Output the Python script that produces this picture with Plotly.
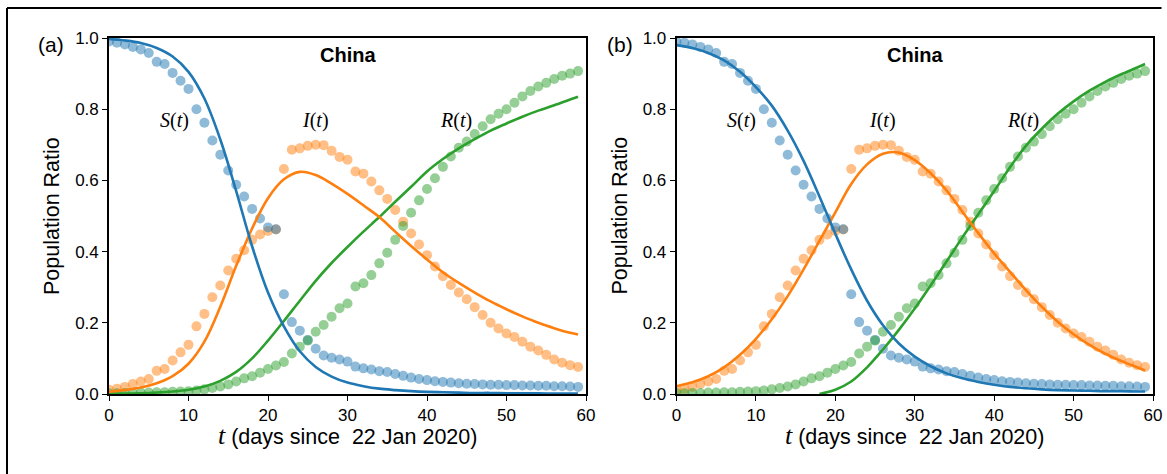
import plotly.graph_objects as go

# ---------------- observed data (days since 22 Jan 2020) ----------------
days = list(range(60))

S_obs = [0.990, 0.987, 0.982, 0.975, 0.968, 0.958, 0.933, 0.927, 0.902, 0.880,
         0.857, 0.800, 0.762, 0.712, 0.672, 0.628, 0.588, 0.555, 0.520, 0.493,
         0.468, 0.463, 0.280, 0.202, 0.178, 0.152, 0.127, 0.108, 0.102, 0.097,
         0.091, 0.077, 0.072, 0.069, 0.064, 0.062, 0.056, 0.051, 0.046, 0.042,
         0.039, 0.036, 0.034, 0.032, 0.030, 0.029, 0.028, 0.027, 0.026, 0.026,
         0.025, 0.025, 0.024, 0.024, 0.023, 0.023, 0.022, 0.022, 0.021, 0.020]

I_obs = [0.012, 0.015, 0.020, 0.028, 0.035, 0.042, 0.065, 0.070, 0.094, 0.117,
         0.138, 0.190, 0.225, 0.272, 0.305, 0.347, 0.380, 0.404, 0.433, 0.448,
         0.458, 0.462, 0.632, 0.686, 0.690, 0.697, 0.700, 0.699, 0.683, 0.666,
         0.658, 0.625, 0.619, 0.597, 0.572, 0.548, 0.517, 0.484, 0.451, 0.420,
         0.390, 0.358, 0.331, 0.306, 0.285, 0.266, 0.244, 0.222, 0.200, 0.184,
         0.170, 0.160, 0.147, 0.133, 0.122, 0.110, 0.097, 0.088, 0.081, 0.076]

R_obs = [0.002, 0.002, 0.003, 0.003, 0.004, 0.004, 0.005, 0.005, 0.006, 0.007,
         0.008, 0.010, 0.013, 0.017, 0.021, 0.027, 0.035, 0.044, 0.050, 0.060,
         0.070, 0.080, 0.090, 0.114, 0.133, 0.150, 0.175, 0.194, 0.217, 0.241,
         0.254, 0.302, 0.311, 0.334, 0.367, 0.397, 0.433, 0.472, 0.509, 0.544,
         0.576, 0.606, 0.638, 0.667, 0.692, 0.709, 0.730, 0.752, 0.772, 0.787,
         0.800, 0.818, 0.836, 0.851, 0.864, 0.874, 0.885, 0.894, 0.900, 0.907]

# ---------------- model curves ----------------
t_model = [0, 2, 4, 6, 8, 10, 12, 14, 16, 18, 20, 22, 24, 26, 28, 30,
           32, 34, 36, 38, 40, 42, 44, 46, 48, 50, 52, 54, 56, 58, 59]

# panel (a)
S_fit_a = [0.997, 0.993, 0.986, 0.972, 0.948, 0.905, 0.830, 0.715, 0.570, 0.415,
           0.285, 0.190, 0.120, 0.076, 0.049, 0.032, 0.022, 0.015, 0.011, 0.008,
           0.006, 0.005, 0.004, 0.003, 0.003, 0.002, 0.002, 0.002, 0.001, 0.001, 0.001]
I_fit_a = [0.006, 0.011, 0.018, 0.030, 0.050, 0.085, 0.147, 0.245, 0.360, 0.465,
           0.550, 0.603, 0.624, 0.615, 0.591, 0.562, 0.530, 0.497, 0.456, 0.416,
           0.378, 0.342, 0.312, 0.285, 0.260, 0.238, 0.218, 0.200, 0.185, 0.172, 0.167]
R_fit_a = [0.000, 0.001, 0.002, 0.004, 0.007, 0.012, 0.021, 0.037, 0.062, 0.100,
           0.150, 0.205, 0.262, 0.318, 0.368, 0.413, 0.456, 0.497, 0.540, 0.582,
           0.625, 0.660, 0.690, 0.716, 0.740, 0.760, 0.779, 0.796, 0.811, 0.827, 0.835]

# panel (b)
S_fit_b = [0.980, 0.972, 0.958, 0.937, 0.905, 0.862, 0.810, 0.740, 0.655, 0.555,
           0.450, 0.350, 0.262, 0.193, 0.142, 0.105, 0.078, 0.058, 0.044, 0.034,
           0.026, 0.020, 0.016, 0.013, 0.011, 0.010, 0.009, 0.008, 0.008, 0.007, 0.007]
I_fit_b = [0.022, 0.033, 0.050, 0.075, 0.110, 0.155, 0.210, 0.275, 0.350, 0.430,
           0.510, 0.590, 0.645, 0.675, 0.678, 0.657, 0.620, 0.572, 0.512, 0.452,
           0.395, 0.343, 0.292, 0.245, 0.203, 0.168, 0.138, 0.113, 0.093, 0.075, 0.066]
t_model_Rb = [18, 20, 22, 24, 26, 28, 30, 32, 34, 36, 38, 40, 42, 44, 46, 48,
              50, 52, 54, 56, 58, 59]
R_fit_b = [0.000, 0.012, 0.035, 0.075, 0.125, 0.180, 0.240, 0.305, 0.372, 0.440,
           0.505, 0.570, 0.637, 0.697, 0.745, 0.787, 0.822, 0.852, 0.877, 0.898,
           0.917, 0.927]

x_ticks = [0, 10, 20, 30, 40, 50, 60]
y_ticks = [0.0, 0.2, 0.4, 0.6, 0.8, 1.0]
panel_tags = ["(a)", "(b)"]
panel_title = "China"
x_title = "(days since\u00a0 22 Jan 2020)"
y_title = "Population Ratio"

BLUE, ORANGE, GREEN = "#1f77b4", "#ff7f0e", "#2ca02c"

fig = go.Figure()

panels = [
    ("x", "y", S_fit_a, I_fit_a, t_model, R_fit_a),
    ("x2", "y2", S_fit_b, I_fit_b, t_model_Rb, R_fit_b),
]

for xa, ya, S_fit, I_fit, tR, R_fit in panels:
    for vals, col in [(I_obs, ORANGE), (S_obs, BLUE), (R_obs, GREEN)]:
        fig.add_trace(go.Scatter(
            x=days, y=vals, mode="markers", xaxis=xa, yaxis=ya,
            marker=dict(size=10, color=col, opacity=0.5, line=dict(width=0)),
            hoverinfo="skip"))
    for tt, vals, col in [(tR, R_fit, GREEN), (t_model, I_fit, ORANGE), (t_model, S_fit, BLUE)]:
        fig.add_trace(go.Scatter(
            x=tt, y=vals, mode="lines", xaxis=xa, yaxis=ya,
            line=dict(color=col, width=2.6, shape="spline", smoothing=1.0),
            hoverinfo="skip"))

L, R_M, T, B = 109, 14, 38, 80
W, H = 1167, 474
PW = W - L - R_M
PH = H - T - B
dom_a = [0, 477 / PW]
dom_b = [(676.5 - L) / PW, 1]

axis_common = dict(
    showline=True, linecolor="black", linewidth=1.6, mirror=True,
    ticks="outside", ticklen=5, tickwidth=1.3, tickcolor="black",
    showgrid=False, zeroline=False, automargin=False,
    tickfont=dict(family="Liberation Sans, Arial", size=17, color="black"),
)

fig.update_layout(
    width=W, height=H, autosize=False,
    margin=dict(l=L, r=R_M, t=T, b=B, pad=0, autoexpand=False),
    paper_bgcolor="white", plot_bgcolor="white",
    showlegend=False,
    xaxis=dict(domain=dom_a, range=[0, 60], tickvals=x_ticks, anchor="y", **axis_common),
    yaxis=dict(domain=[0, 1], range=[0, 1], tickvals=y_ticks, tickformat=".1f", anchor="x", **axis_common),
    xaxis2=dict(domain=dom_b, range=[0, 60], tickvals=x_ticks, anchor="y2", **axis_common),
    yaxis2=dict(domain=[0, 1], range=[0, 1], tickvals=y_ticks, tickformat=".1f", anchor="x2", **axis_common),
)

def px_to_py(py):
    return (H - B - py) / PH

annotations = []
for i, (xa, ya, dom) in enumerate([("x", "y", dom_a), ("x2", "y2", dom_b)]):
    # panel title
    annotations.append(dict(x=30, y=0.952, xref=xa, yref=ya, text="<b>%s</b>" % panel_title,
                            showarrow=False, font=dict(family="Liberation Sans, Arial", size=20, color="black")))
    # curve labels
    for xv, lab in [(8.2, "<i>S</i>(<i>t</i>)"), (26.0, "<i>I</i>(<i>t</i>)"), (43.6, "<i>R</i>(<i>t</i>)")]:
        annotations.append(dict(x=xv, y=0.768, xref=xa, yref=ya, text=lab, showarrow=False,
                                font=dict(family="Liberation Serif, Times New Roman", size=20, color="black")))
    # x title
    annotations.append(dict(
        x=(dom[0] + dom[1]) / 2, y=px_to_py(435), xref="paper", yref="paper",
        xanchor="center", yanchor="middle", showarrow=False,
        text='<span style="font-family:Liberation Serif;font-size:26px"><i>t</i></span> ' + x_title,
        font=dict(family="Liberation Sans, Arial", size=21.5, color="black")))
    # y title
    annotations.append(dict(
        x=dom[0], y=0.5, xref="paper", yref="paper", xanchor="center", yanchor="middle",
        xshift=-57, textangle=-90, showarrow=False, text=y_title,
        font=dict(family="Liberation Sans, Arial", size=21.5, color="black")))
    # panel tag
    annotations.append(dict(
        x=dom[0], y=px_to_py(44), xref="paper", yref="paper", xanchor="center", yanchor="middle",
        xshift=-58 if i == 0 else -57, showarrow=False, text=panel_tags[i],
        font=dict(family="Liberation Sans, Arial", size=21, color="black")))

fig.update_layout(annotations=annotations)

# outer frame (top and left edges visible in the reference)
fx0 = (7 - L) / PW
fx1 = (1161.5 - L) / PW
fy_top = px_to_py(8)
fy_bot = px_to_py(480)
fig.add_shape(type="line", xref="paper", yref="paper", x0=fx0, x1=fx1, y0=fy_top, y1=fy_top,
              line=dict(color="black", width=2))
fig.add_shape(type="line", xref="paper", yref="paper", x0=fx0, x1=fx0, y0=fy_top, y1=fy_bot,
              line=dict(color="black", width=2))

fig.write_html("out.html",
               config=dict(displayModeBar=False, responsive=False),
               post_script="document.body.style.margin='0px';document.body.style.overflow='hidden';")
